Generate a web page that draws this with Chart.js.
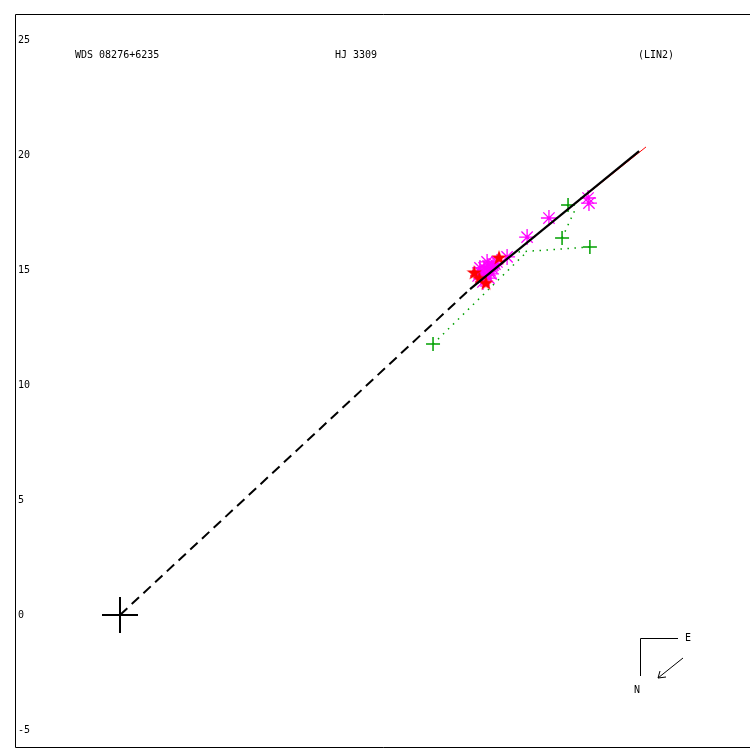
<!DOCTYPE html>
<html><head><meta charset="utf-8">
<script src="https://cdn.jsdelivr.net/npm/chart.js@4/dist/chart.umd.min.js"></script>
<style>html,body{margin:0;padding:0;background:#fff}canvas{display:block}</style>
</head><body>
<canvas id="c" width="750" height="750"></canvas>
<script>
// ---- data (arcsec offsets) ----
const yTicks = [-5, 0, 5, 10, 15, 20, 25];
const titleLeft = "WDS 08276+6235";
const titleMid = "HJ 3309";
const titleRight = "(LIN2)";
const primary = [{x: 0, y: 0}];
const dashedLine = [{x: 0, y: 0}, {x: 15.22, y: 14.17}];
const orbitLine = [{x: 15.22, y: 14.17}, {x: 22.57, y: 20.17}];
const redLine = [{x: 19.0, y: 17.25}, {x: 22.87, y: 20.35}];
const greenObs = [{x: 13.61, y: 11.78}, {x: 19.22, y: 16.39}, {x: 20.43, y: 16.00}, {x: 19.48, y: 17.83}];
const greenResid = [
  [{x: 13.61, y: 11.78}, {x: 17.70, y: 15.80}],
  [{x: 20.43, y: 16.00}, {x: 17.26, y: 15.78}],
  [{x: 19.22, y: 16.39}, {x: 19.78, y: 17.61}],
  [{x: 19.48, y: 17.83}, {x: 19.30, y: 17.60}]
];
const magentaObs = [
  {x: 17.70, y: 16.43}, {x: 18.65, y: 17.26}, {x: 20.35, y: 18.13}, {x: 20.39, y: 17.91}, {x: 16.83, y: 15.57},
  {x: 15.65, y: 14.91}, {x: 15.83, y: 15.09}, {x: 16.00, y: 15.17}, {x: 16.17, y: 15.09}, {x: 15.91, y: 14.78},
  {x: 15.70, y: 14.61}, {x: 16.09, y: 14.96}, {x: 16.30, y: 15.26}, {x: 15.78, y: 14.48},
  {x: 15.57, y: 14.74}, {x: 15.96, y: 15.35}, {x: 16.22, y: 15.22}, {x: 16.04, y: 14.65},
  {x: 15.83, y: 14.83}, {x: 16.39, y: 15.35}, {x: 15.65, y: 15.09}, {x: 16.13, y: 14.83}
];
const redObs = [{x: 16.48, y: 15.52}, {x: 15.40, y: 14.87}, {x: 15.91, y: 14.42}, {x: 15.62, y: 14.62}];

// filled red star marker
function makeStar(color) {
  const cv = document.createElement('canvas');
  cv.width = 16; cv.height = 16;
  const g = cv.getContext('2d');
  g.fillStyle = color;
  g.beginPath();
  for (let i = 0; i < 10; i++) {
    const r = i % 2 === 0 ? 8 : 3.2;
    const a = -Math.PI / 2 + i * Math.PI / 5;
    const px = 8 + r * Math.cos(a), py = 8 + r * Math.sin(a);
    if (i === 0) g.moveTo(px, py); else g.lineTo(px, py);
  }
  g.closePath(); g.fill();
  return cv;
}
const redStar = makeStar('#ff0000');

const datasets = [];
datasets.push({data: primary, pointStyle: 'cross', pointRadius: 18, borderColor: '#000', borderWidth: 2, showLine: false, order: 1});
datasets.push({data: orbitLine, showLine: true, borderColor: '#000', borderWidth: 2.2, pointRadius: 0, order: 2});
datasets.push({data: dashedLine, showLine: true, borderColor: '#000', borderWidth: 2, borderDash: [10, 6], pointRadius: 0, order: 3});
datasets.push({data: redLine, showLine: true, borderColor: '#ff0000', borderWidth: 1, pointRadius: 0, order: 4});
datasets.push({data: redObs, pointStyle: redStar, pointRadius: 8, showLine: false, order: 5});
datasets.push({data: magentaObs, pointStyle: 'star', pointRadius: 8, borderColor: '#ff00ff', backgroundColor: '#ff00ff', borderWidth: 1.3, showLine: false, order: 6});
datasets.push({data: greenObs, pointStyle: 'cross', pointRadius: 7, borderColor: '#00a000', borderWidth: 1.5, showLine: false, order: 7});
greenResid.forEach(seg => datasets.push({data: seg, showLine: true, borderColor: '#00a000', borderWidth: 1.5, borderDash: [1.5, 5.5], pointRadius: 0, order: 8}));

const deco = {
  id: 'deco',
  afterDraw(chart) {
    const c = chart.ctx, a = chart.chartArea, ys = chart.scales.y;
    c.save();
    c.strokeStyle = '#000'; c.lineWidth = 1;
    c.beginPath();
    c.moveTo(a.right + 1, a.top + 0.5); c.lineTo(a.left + 0.5, a.top + 0.5);
    c.lineTo(a.left + 0.5, a.bottom - 0.5); c.lineTo(a.right + 1, a.bottom - 0.5);
    c.stroke();
    c.fillStyle = '#000';
    c.font = '10px "DejaVu Sans Mono", monospace';
    c.textBaseline = 'middle'; c.textAlign = 'left';
    yTicks.forEach(v => c.fillText(String(v), a.left + 3, ys.getPixelForValue(v)));
    c.fillText(titleLeft, 75, 55);
    c.fillText(titleMid, 335, 55);
    c.fillText(titleRight, 638, 55);
    // compass
    c.beginPath();
    c.moveTo(678, 638.5); c.lineTo(640.5, 638.5); c.lineTo(640.5, 676);
    c.stroke();
    c.fillText('E', 685, 638);
    c.fillText('N', 634, 690);
    c.beginPath();
    c.moveTo(683, 658); c.lineTo(658, 678);
    c.moveTo(658, 678); c.lineTo(660, 671);
    c.moveTo(658, 678); c.lineTo(666, 677);
    c.stroke();
    c.restore();
  }
};

new Chart(document.getElementById('c'), {
  type: 'scatter',
  data: {datasets},
  options: {
    responsive: false,
    animation: false,
    layout: {autoPadding: false, padding: {left: 15, top: 14, right: 0, bottom: 2}},
    plugins: {legend: {display: false}, tooltip: {enabled: false}},
    scales: {
      x: {type: 'linear', min: -4.565, max: 27.391, display: false},
      y: {type: 'linear', min: -5.783, max: 26.13, display: false}
    }
  },
  plugins: [deco]
});
</script>
</body></html>
